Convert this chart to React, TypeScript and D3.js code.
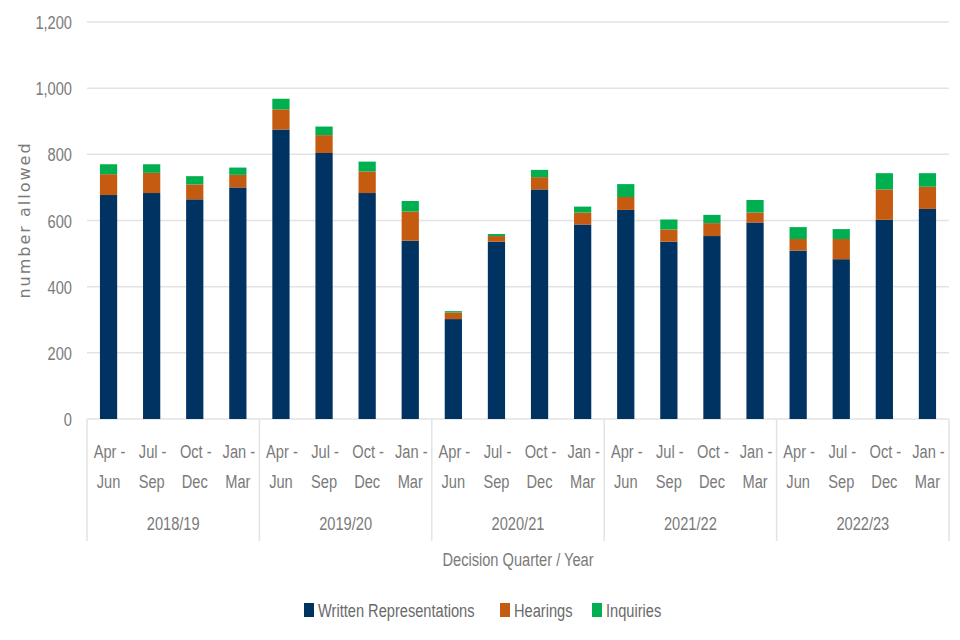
import React from "react";
import * as d3 from "d3";

const years = ["2018/19", "2019/20", "2020/21", "2021/22", "2022/23"];
const quarters = [["Apr -", "Jun"], ["Jul -", "Sep"], ["Oct -", "Dec"], ["Jan -", "Mar"]];

const written = [677, 683, 664, 700, 875, 804, 683, 539, 302, 536, 694, 588, 632, 536, 553, 594, 509, 483, 602, 635];
const hearings = [63, 61, 45, 38, 61, 54, 65, 88, 20, 17, 37, 36, 39, 37, 39, 30, 35, 61, 92, 67];
const inquiries = [30, 26, 25, 22, 32, 26, 30, 32, 4, 6, 22, 18, 39, 30, 25, 38, 36, 30, 49, 41];

const seriesNames = ["Written Representations", "Hearings", "Inquiries"];
const seriesColors = ["#003262", "#C55A11", "#00B050"];
const yTicks = [0, 200, 400, 600, 800, 1000, 1200];

const FONT = "'Liberation Sans', Arial, sans-serif";
const TEXT = "#7a7a7a";
const SX = 0.77; // the reference text is horizontally squeezed

// narrow text: scaled on x only
function Txt(props: { x: number; y: number; anchor?: string; size?: number; fill?: string; children: any }) {
  const { x, y, anchor = "start", size = 19, fill = TEXT, children } = props;
  return (
    <text
      transform={`translate(${x},${y}) scale(${SX},1)`}
      textAnchor={anchor}
      fontFamily={FONT}
      fontSize={size}
      fill={fill}
    >
      {children}
    </text>
  );
}

export default function App() {
  const left = 87, right = 949, top = 22, bottom = 419;

  const keys = years.flatMap((y) => quarters.map((q, i) => `${y}-${i}`));
  const rows = keys.map((k, i) => ({
    key: k,
    "Written Representations": written[i],
    Hearings: hearings[i],
    Inquiries: inquiries[i],
  }));

  const x = d3.scaleBand().domain(keys).range([left, right]).paddingInner(0.6).paddingOuter(0.3);
  const y = d3.scaleLinear().domain([0, 1200]).range([bottom, top]);
  const stacked = d3.stack<any>().keys(seriesNames)(rows);
  const step = x.step();
  const groupW = step * 4;

  return (
    <svg width={960} height={640} style={{ position: "absolute", left: 0, top: 0, background: "#fff" }}>
      {/* grid */}
      {yTicks.map((t) => (
        <g key={t}>
          <line x1={left} x2={right} y1={y(t)} y2={y(t)} stroke="#e3e3e3" strokeWidth={1.5} />
          <Txt x={72} y={y(t) + 7} anchor="end">{d3.format(",")(t)}</Txt>
        </g>
      ))}

      {/* bars */}
      {stacked.map((s, si) => (
        <g key={s.key} fill={seriesColors[si]}>
          {s.map((d, i) => (
            <rect
              key={i}
              x={x(keys[i])}
              width={x.bandwidth()}
              y={y(d[1])}
              height={y(d[0]) - y(d[1])}
            />
          ))}
        </g>
      ))}

      {/* category axis */}
      {years.map((yr, gi) => {
        const gx = left + gi * groupW;
        return (
          <g key={yr}>
            <line x1={gx} x2={gx} y1={bottom} y2={541} stroke="#e3e3e3" strokeWidth={1.5} />
            <Txt x={gx + groupW / 2} y={530} anchor="middle">{yr}</Txt>
          </g>
        );
      })}
      <line x1={right} x2={right} y1={bottom} y2={541} stroke="#e3e3e3" strokeWidth={1.5} />
      {keys.map((k, i) => {
        const cx = (x(k) as number) + x.bandwidth() / 2;
        const q = quarters[i % 4];
        return (
          <g key={k}>
            <Txt x={cx + 1} y={458} anchor="middle">{q[0]}</Txt>
            <Txt x={cx} y={488} anchor="middle">{q[1]}</Txt>
          </g>
        );
      })}

      <Txt x={518} y={566} anchor="middle">Decision Quarter / Year</Txt>

      <text
        transform={`translate(30, 220) rotate(-90)`}
        textAnchor="middle"
        fontFamily="'DejaVu Sans', sans-serif"
        fontSize={16}
        letterSpacing={2}
        fill={TEXT}
      >
        number allowed
      </text>

      {/* legend */}
      {seriesNames.map((n, i) => {
        const lx = [304, 500, 592][i];
        return (
          <g key={n}>
            <rect x={lx} y={603} width={10} height={14} fill={seriesColors[i]} />
            <Txt x={lx + 14} y={617} fill="#6a6a6a">{n}</Txt>
          </g>
        );
      })}
    </svg>
  );
}
